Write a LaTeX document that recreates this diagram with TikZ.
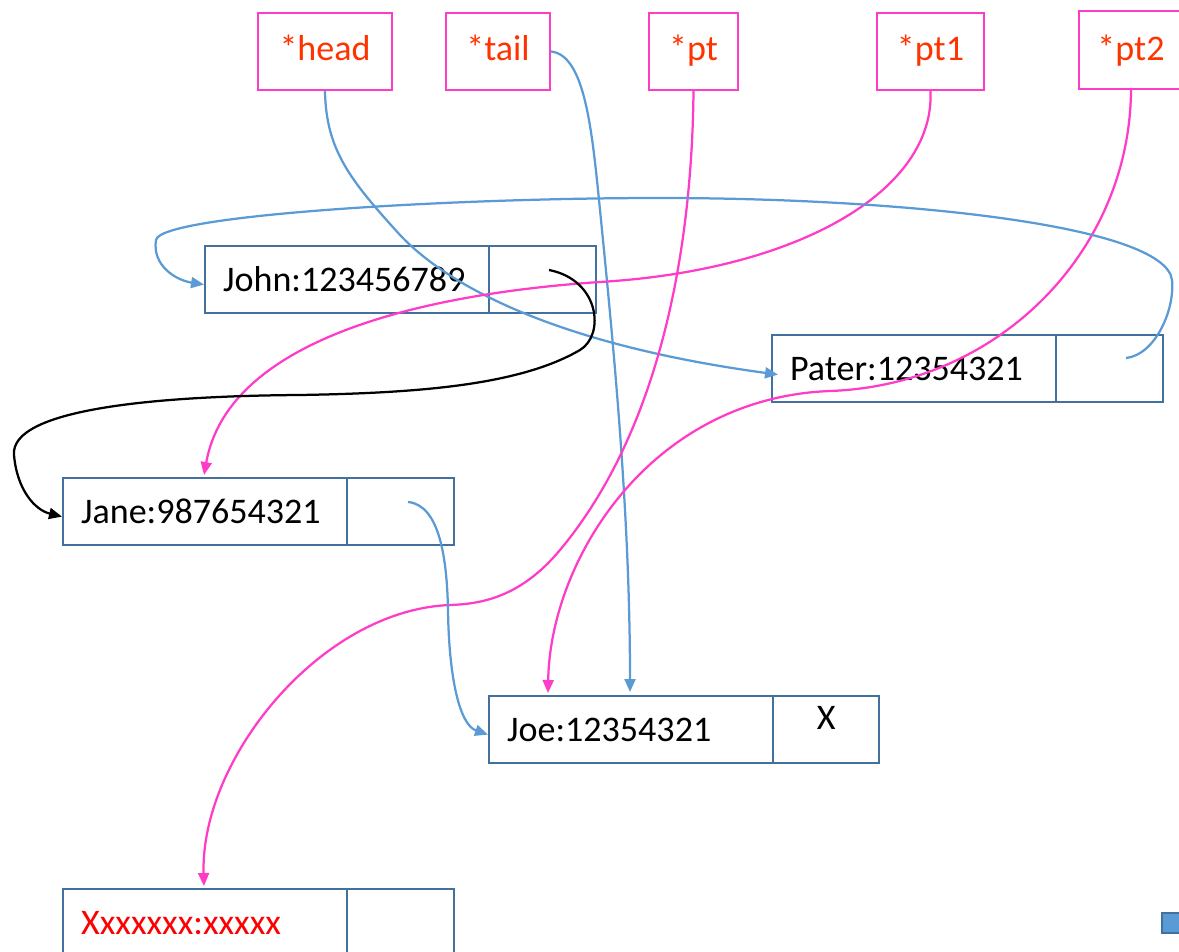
\documentclass[tikz,border=0pt]{standalone}
\usepackage{fontspec}
\setmainfont{Carlito}
\usetikzlibrary{arrows.meta,calc}
\definecolor{boxblue}{RGB}{65,113,156}
\definecolor{linkblue}{RGB}{91,155,213}
\definecolor{mag}{RGB}{255,60,200}
\definecolor{lbl}{RGB}{255,51,0}
\definecolor{xred}{RGB}{255,0,0}
\tikzset{
  fnt/.style={font=\fontsize{20.5}{24}\selectfont},
  databox/.style={draw=boxblue, line width=0.045cm, anchor=north west, minimum width=5.68cm, minimum height=1.34cm, text width=4.96cm, inner xsep=0.36cm, align=left, fnt},
  ptrbox/.style={draw=boxblue, line width=0.045cm, anchor=north west, minimum width=2.14cm, minimum height=1.34cm, fnt},
  varbox/.style={draw=mag, line width=0.04cm, anchor=north west, minimum height=1.54cm, text=lbl, fnt, inner sep=0pt, text height=0.96cm, text depth=0.58cm},
  link/.style={line width=0.045cm, -{Triangle[length=0.26cm,width=0.22cm]}},
  bl/.style={link, draw=linkblue, -{Triangle[length=0.26cm,width=0.22cm,fill=linkblue]}},
  mg/.style={link, draw=mag, -{Triangle[length=0.26cm,width=0.22cm,fill=mag]}},
  bk/.style={link, draw=black},
}
\begin{document}
\begin{tikzpicture}[x=0.02cm,y=-0.02cm]
\useasboundingbox (0,0) rectangle (1179,952);
% variable boxes
\node[varbox, minimum width=2.68cm] (head) at (257,12) {*head};
\node[varbox, minimum width=2.08cm] (tail) at (445,12) {*tail};
\node[varbox, minimum width=1.78cm] (pt) at (648,12) {*pt};
\node[varbox, minimum width=2.14cm] (pta) at (876,12) {*pt1};
\node[varbox, minimum width=2.08cm, text height=1.0cm, text depth=0.56cm] (ptb) at (1078,10) {*pt2};
% records
\node[databox] (john) at (204,245) {John:123456789};
\node[ptrbox] (johnp) at (488,245) {};
\node[databox] (pater) at (771,334) {Pater:12354321};
\node[ptrbox] (paterp) at (1055,334) {};
\node[databox] (jane) at (62,477) {Jane:987654321};
\node[ptrbox] (janep) at (346,477) {};
\node[databox] (joe) at (488,695) {Joe:12354321};
\node[ptrbox, minimum width=2.12cm, text height=0.67cm, text depth=0.67cm, inner ysep=0pt] (joep) at (772,695) {X};
\node[databox, text=xred] (xx) at (62,888) {Xxxxxxx:xxxxx};
\node[ptrbox] (xxp) at (346,888) {};
\node[draw=boxblue, fill=linkblue, line width=0.04cm, anchor=north west, minimum width=0.42cm, minimum height=0.4cm, inner sep=0pt] (sq) at (1161,912) {};
% start points of next pointers
\coordinate (js) at (549,270);
\coordinate (ps) at (1126,358);
\coordinate (jas) at (408,502);
% head -> Pater
\draw[bl] (head.south) .. controls (326,150) and (350,180) .. (400,235)
  .. controls (450,288) and (560,345) .. ($(pater.west)+(7,6)$);
% tail -> Joe
\draw[bl] (tail.east) .. controls (585,55) and (592,130) .. (600,210)
  .. controls (615,360) and (630,520) .. (630,692);
% pt -> Xxx
\draw[mg] (pt.south) .. controls (692,250) and (660,430) .. (560,550)
  .. controls (520,598) and (480,604) .. (450,605)
  .. controls (320,610) and (200,760) .. (204,886);
% pt1 -> Jane
\draw[mg] (pta.south) .. controls (935,190) and (800,270) .. (600,282)
  .. controls (450,292) and (230,330) .. (204,475);
% pt2 -> Joe
\draw[mg] (ptb.south) .. controls (1130,250) and (1000,385) .. (830,391)
  .. controls (650,398) and (550,560) .. (548,693);
% John -> Jane
\draw[bk] (js) .. controls (600,280) and (605,335) .. (580,350)
  .. controls (520,385) and (420,393) .. (300,395)
  .. controls (150,396) and (10,410) .. (14,455)
  .. controls (17,490) and (35,510) .. ($(jane.west)+(0,5)$);
% Pater -> John
\draw[bl] (ps) .. controls (1155,355) and (1175,310) .. (1172,280)
  .. controls (1165,225) and (900,198) .. (660,198)
  .. controls (450,198) and (160,215) .. (156,240)
  .. controls (152,265) and (175,280) .. ($(john.west)+(0,5)$);
% Jane -> Joe
\draw[bl] (jas) .. controls (440,505) and (447,560) .. (448,610)
  .. controls (449,680) and (460,725) .. ($(joe.west)+(0,5)$);
\end{tikzpicture}
\end{document}
